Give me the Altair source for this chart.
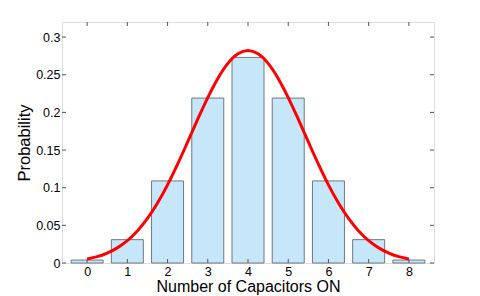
import altair as alt
import pandas as pd

# Bars: binomial probabilities
k_vals = [0, 1, 2, 3, 4, 5, 6, 7, 8]
prob_vals = [0.0039, 0.031, 0.109, 0.219, 0.273, 0.219, 0.109, 0.031, 0.0039]

# Red curve points
curve_x = [0, 0.25, 0.5, 0.75, 1, 1.25, 1.5, 1.75, 2, 2.25, 2.5, 2.75, 3, 3.25, 3.5, 3.75,
           4, 4.25, 4.5, 4.75, 5, 5.25, 5.5, 5.75, 6, 6.25, 6.5, 6.75, 7, 7.25, 7.5, 7.75, 8]
curve_y = [0.0052, 0.0084, 0.0132, 0.0201, 0.0297, 0.0426, 0.0591, 0.0796, 0.1038, 0.1312,
           0.1607, 0.1909, 0.2197, 0.2451, 0.2650, 0.2777, 0.2821, 0.2777, 0.2650, 0.2451,
           0.2197, 0.1909, 0.1607, 0.1312, 0.1038, 0.0796, 0.0591, 0.0426, 0.0297, 0.0201,
           0.0132, 0.0084, 0.0052]

x_ticks = [0, 1, 2, 3, 4, 5, 6, 7, 8]
y_ticks = [0, 0.05, 0.1, 0.15, 0.2, 0.25, 0.3]

W, H = 372, 241
FONT = "Liberation Sans"
AX = "#555555"
X_TITLE = "Number of Capacitors ON"
Y_TITLE = "Probability"

bars_df = pd.DataFrame({"k": k_vals, "p": prob_vals})
curve_df = pd.DataFrame({"x": curve_x, "y": curve_y})
xt_df = pd.DataFrame({"t": x_ticks})
yt_df = pd.DataFrame({"t": y_ticks})

xscale = alt.Scale(domain=[-0.5, 8.5], nice=False, zero=False)
yscale = alt.Scale(domain=[0, 0.32], nice=False)

xaxis = alt.Axis(values=x_ticks, format="d", domain=False, ticks=False, grid=False,
                 labelFontSize=12.5, labelFont=FONT, labelColor="#000",
                 labelPadding=2, titleFontSize=16, titleFont=FONT,
                 titleFontWeight="normal", titleColor="#000", titlePadding=1)
yaxis = alt.Axis(values=y_ticks, format=".2~f", domain=False, ticks=False, grid=False,
                 labelFontSize=12.5, labelFont=FONT, labelColor="#000",
                 labelPadding=2, titleFontSize=16.5, titleFont=FONT,
                 titleFontWeight="normal", titleColor="#000", titlePadding=3)


def X(field):
    return alt.X(field, scale=xscale, title=X_TITLE, axis=xaxis)


def Y(field):
    return alt.Y(field, scale=yscale, title=Y_TITLE, axis=yaxis)


bars = alt.Chart(bars_df).mark_bar(
    size=32, fill="#C6E6FA", stroke="#707880", strokeWidth=1
).encode(x=X("k:Q"), y=Y("p:Q"))

curve = alt.Chart(curve_df).mark_line(
    color="#FF0000", strokeWidth=3, interpolate="monotone"
).encode(x=X("x:Q"), y=Y("y:Q"))

tick_style = dict(color=AX, strokeWidth=1)
xt_bottom = alt.Chart(xt_df).mark_rule(**tick_style).encode(
    x=X("t:Q"), y=alt.value(H), y2=alt.value(H - 4))
xt_top = alt.Chart(xt_df).mark_rule(**tick_style).encode(
    x=X("t:Q"), y=alt.value(0), y2=alt.value(4))
yt_left = alt.Chart(yt_df).mark_rule(**tick_style).encode(
    y=Y("t:Q"), x=alt.value(0), x2=alt.value(4))
yt_right = alt.Chart(yt_df).mark_rule(**tick_style).encode(
    y=Y("t:Q"), x=alt.value(W), x2=alt.value(W - 4))

chart = alt.layer(bars, curve, xt_bottom, xt_top, yt_left, yt_right).properties(
    width=W, height=H,
    autosize=alt.AutoSizeParams(type="none"),
    padding={"left": 54, "top": 14, "right": 38, "bottom": 33},
).configure_view(stroke=AX, strokeWidth=1).configure(background="white")

chart.save("out.html", embed_options={"renderer": "svg", "actions": False})
